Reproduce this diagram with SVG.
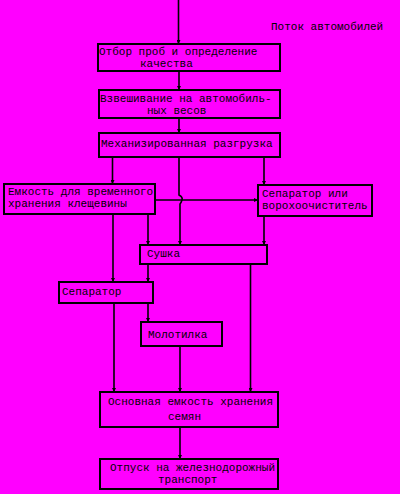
<svg xmlns="http://www.w3.org/2000/svg" width="400" height="494" viewBox="0 0 400 494">
<defs>
<marker id="ah" viewBox="0 0 6 6" refX="6" refY="3" markerWidth="4" markerHeight="4" orient="auto" markerUnits="userSpaceOnUse"><path d="M0,0 L6,3 L0,6 z" fill="#000"/></marker>
<style>
.b{fill:none;stroke:#000;stroke-width:2}
.c{fill:none;stroke:#000;stroke-width:1.6}
.a{marker-end:url(#ah)}
text{font-family:"Liberation Mono","DejaVu Sans Mono",monospace;font-size:11px;fill:#000}
</style>
</defs>
<rect width="400" height="494" fill="#FF00FF"/>
<text x="271" y="30">Поток автомобилей</text>
<g id="connectors">
<path class="c a" d="M178.5,0 V44"/>
<path class="c a" d="M179,71 V90"/>
<path class="c a" d="M179,118 V133"/>
<path class="c a" d="M112.5,157 V184"/>
<path class="c a" d="M264,157 V185"/>
<path class="c a" d="M179,157 V195 Q183,197 182,200 Q181,203 180,204 V245"/>
<path class="c a" d="M155,200 H258"/>
<path class="c a" d="M113,214 V282"/>
<path class="c a" d="M148,214 V245"/>
<path class="c a" d="M264,216 V245"/>
<path class="c a" d="M148,264 V282"/>
<path class="c a" d="M250.5,264 V392"/>
<path class="c a" d="M114,303 V392"/>
<path class="c a" d="M148,303 V322"/>
<path class="c a" d="M180,346 V392"/>
<path class="c a" d="M180,427 V459"/>
</g>
<g id="n1"><rect class="b" x="98" y="44" width="182" height="27"/><text x="99" y="55">Отбор проб и определение</text><text x="140" y="67">качества</text></g>
<g id="n2"><rect class="b" x="99" y="90" width="181" height="28"/><text x="100" y="102">Взвешивание на автомобиль-</text><text x="147" y="114">ных весов</text></g>
<g id="n3"><rect class="b" x="99" y="133" width="181" height="24"/><text x="101" y="147">Механизированная разгрузка</text></g>
<g id="n4"><rect class="b" x="4" y="184" width="151" height="30"/><text x="8" y="195">Емкость для временного</text><text x="8" y="207">хранения клещевины</text></g>
<g id="n5"><rect class="b" x="258" y="185" width="114" height="31"/><text x="262" y="197">Сепаратор или</text><text x="262" y="209">ворохоочиститель</text></g>
<g id="n6"><rect class="b" x="140" y="245" width="127" height="19"/><text x="147" y="257">Сушка</text></g>
<g id="n7"><rect class="b" x="59" y="282" width="94" height="21"/><text x="62" y="295">Сепаратор</text></g>
<g id="n8"><rect class="b" x="141" y="322" width="81" height="24"/><text x="148" y="338">Молотилка</text></g>
<g id="n9"><rect class="b" x="100" y="392" width="178" height="35"/><text x="108" y="405">Основная емкость хранения</text><text x="168" y="420">семян</text></g>
<g id="n10"><rect class="b" x="100" y="459" width="178" height="30"/><text x="110" y="471">Отпуск на железнодорожный</text><text x="158" y="483">транспорт</text></g>
</svg>
